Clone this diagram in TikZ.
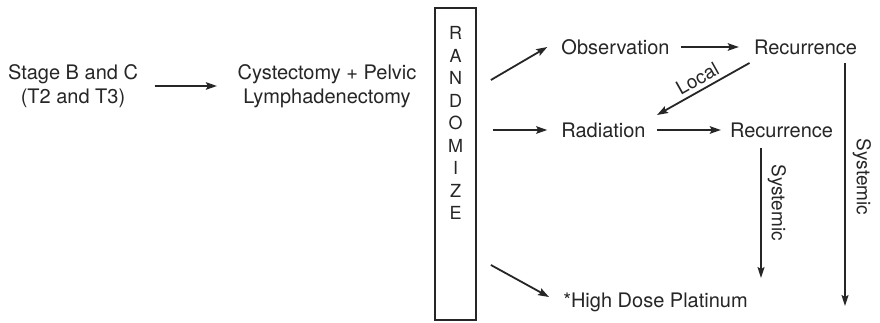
\documentclass[tikz,border=0pt]{standalone}
\usepackage{fontspec}
\setmainfont{TeX Gyre Heros}
\usetikzlibrary{arrows.meta}
\definecolor{ink}{HTML}{262626}
\begin{document}
\begin{tikzpicture}[x=1pt,y=-1pt,
  txt/.style={inner sep=0pt, text=ink, font=\fontsize{20}{24}\selectfont},
  arr/.style={draw=ink, line width=1.8pt, -{Stealth[length=11pt,width=7.5pt,inset=2pt]}},
  varr/.style={draw=ink, line width=1.5pt, -{Stealth[length=11pt,width=7pt,inset=2pt]}},
  lab/.style={inner sep=0pt, text=ink, font=\fontsize{19}{22}\selectfont}]
\useasboundingbox[fill=white] (0,0) rectangle (880,323);
\node[txt, align=center] (stage) at (73,86) {Stage B and C\\(T2 and T3)};
\node[txt, align=center] (cyst) at (327,86) {Cystectomy + Pelvic\\Lymphadenectomy};
\draw[arr, shorten <=16.5pt, shorten >=20.5pt] (stage.east) -- (cyst.west);

\node[draw=ink, line width=1.8pt, minimum width=41pt, minimum height=312pt, inner sep=0pt] (rand) at (455.5,164) {};
\node[txt, font=\fontsize{18}{22.5}\selectfont, align=center] (word) at (455.5,123) {R\\A\\N\\D\\O\\M\\I\\Z\\E};

\node[txt] (obs) at (615.5,47) {Observation};
\node[txt] (rec1) at (805.5,47) {Recurrence};
\node[txt] (rad) at (603.5,130) {Radiation};
\node[txt] (rec2) at (781.5,130) {Recurrence};
\node[txt] (hdp) at (655.5,302) {*High Dose Platinum};

\draw[arr] ([shift={(14pt,84pt)}]rand.east) -- ([xshift=-14pt]obs.west);
\draw[arr] ([shift={(16pt,34pt)}]rand.east) -- ([xshift=-14pt]rad.west);
\draw[arr] ([shift={(14pt,-101pt)}]rand.east) -- ([shift={(-14pt,5pt)}]hdp.west);
\draw[arr] ([xshift=11pt]obs.east) -- ([xshift=-15pt]rec1.west);
\draw[arr] ([xshift=11pt]rad.east) -- ([xshift=-9pt]rec2.west);
\draw[arr] ([shift={(-56pt,-16pt)}]rec1.center) -- node[lab, sloped, above=4pt] {Local} ([shift={(53.5pt,15pt)}]rad.center);

\coordinate (s1end) at (761,278);
\draw[varr] ([shift={(-20.5pt,-18pt)}]rec2.center) -- node[lab, pos=0.42, rotate=-90, anchor=south, inner sep=6pt] {Systemic} (s1end);
\coordinate (s2end) at (845,306);
\draw[varr] ([shift={(39.5pt,-16pt)}]rec1.center) -- node[lab, pos=0.47, rotate=-90, anchor=south, inner sep=7pt] {Systemic} (s2end);
\end{tikzpicture}
\end{document}
